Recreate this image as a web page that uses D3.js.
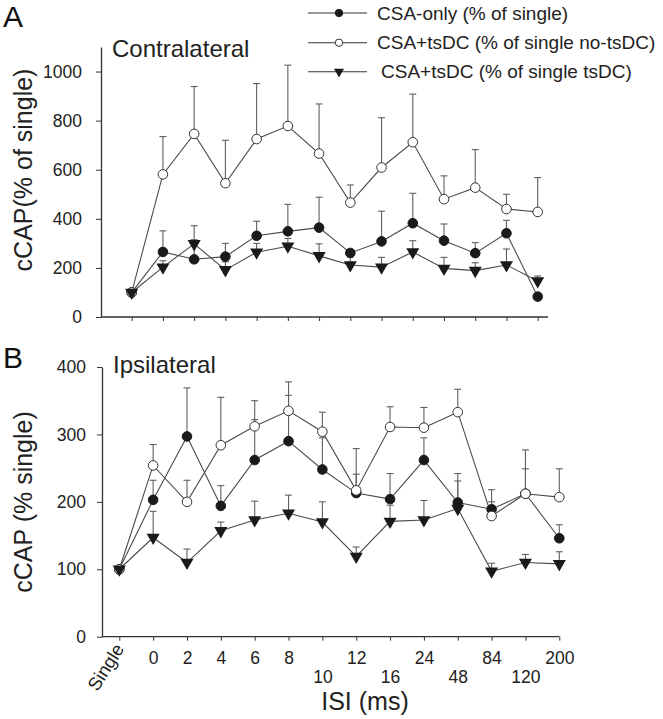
<!DOCTYPE html>
<html><head><meta charset="utf-8">
<script src="https://cdn.jsdelivr.net/npm/d3@7"></script>
<style>body{margin:0;background:#fff}svg{display:block;font-family:"Liberation Sans",Arial,sans-serif}</style>
</head><body>
<svg id="c" width="663" height="719"></svg>
<script>
const categories = ["Single","0","2","4","6","8","10","12","16","24","48","84","120","200"];
const lowerRow = ["10","16","48","120"];

// Panel A (Contralateral) means and upper error bar ends
const aCsaOnly     = [100,265,235,246,331,349,364,261,308,382,311,260,341,83];
const aCsaOnlyTop  = [null,351,372,300,390,459,488,275,431,504,379,303,394,null];
const aNoTsdc      = [100,581,746,545,725,778,666,466,609,712,480,527,440,428];
const aNoTsdcTop   = [null,735,939,720,951,1026,868,538,812,908,575,682,500,568];
const aTsdc        = [100,203,298,192,264,288,249,212,203,265,198,189,212,147];
const aTsdcTop     = [null,229,315,225,300,320,298,245,243,311,243,221,277,167];

// Panel B (Ipsilateral)
const bCsaOnly     = [100,203,297,194,262,290,248,213,204,262,199,189,212,146];
const bCsaOnlyTop  = [null,232,369,224,322,358,295,241,242,295,242,218,249,166];
const bNoTsdc      = [100,254,200,284,312,335,304,217,311,310,333,179,212,207];
const bNoTsdcTop   = [null,285,232,355,350,378,333,279,341,340,367,200,277,249];
const bTsdc        = [100,147,110,157,173,183,170,119,171,173,190,97,110,108];
const bTsdcTop     = [null,186,130,170,201,210,200,133,195,202,231,109,122,126];

const aTicks = [0,200,400,600,800,1000];
const bTicks = [0,100,200,300,400];

const legendLabels = ["CSA-only (% of single)","CSA+tsDC (% of single no-tsDC)","CSA+tsDC (% of single tsDC)"];

const svg = d3.select("#c");
const lineCol = "#4a4a4a", errCol = "#606060", mk = "#1a1a1a";
const tri = d3.symbol().type(d3.symbolTriangle);
const FONT = "Liberation Sans, Arial, sans-serif";

function marker(g, type, x, y, r) {
  if (type === "filled") g.append("circle").attr("cx",x).attr("cy",y).attr("r",r).attr("fill",mk).attr("stroke",mk).attr("stroke-width",1);
  else if (type === "open") g.append("circle").attr("cx",x).attr("cy",y).attr("r",r).attr("fill","#fff").attr("stroke","#333").attr("stroke-width",1);
  else g.append("path").attr("d", tri.size(r*r*3.2)()).attr("transform",`translate(${x},${y}) rotate(180)`).attr("fill",mk);
}

function panel(opt) {
  const g = svg.append("g");
  const x = d3.scalePoint().domain(categories).range([opt.x0, opt.x1]);
  const y = d3.scaleLinear().domain([0, opt.ymax]).range([opt.yb, opt.yt]);
  // y axis
  const ya = g.append("g").attr("transform",`translate(${opt.left},0)`)
    .call(d3.axisLeft(y).tickValues(opt.ticks).tickFormat(d3.format("d")).tickSize(5).tickSizeOuter(0).tickPadding(opt.pad));
  ya.select(".domain").attr("stroke","#333").attr("stroke-width",1.3);
  ya.selectAll(".tick line").attr("stroke","#333");
  ya.selectAll("text").attr("font-size",17.5).attr("fill","#222").attr("font-family",FONT);
  // x axis
  const xa = g.append("g").attr("transform",`translate(0,${opt.yb})`)
    .call(d3.axisBottom(x).tickSize(4).tickSizeOuter(0));
  xa.select(".domain").remove();
  g.append("line").attr("x1",opt.left).attr("x2",opt.xend).attr("y1",opt.yb).attr("y2",opt.yb).attr("stroke","#333").attr("stroke-width",1.3);
  xa.selectAll(".tick line").attr("stroke","#333");
  if (opt.labels) {
    xa.selectAll(".tick text").attr("font-size",17.5).attr("fill","#222").attr("font-family",FONT)
      .attr("y", d => lowerRow.includes(d) ? 34 : 15)
      .each(function(d){
        if (d === "Single") d3.select(this).attr("text-anchor","end").attr("dy",0).attr("y",0)
          .attr("font-size",18.5).attr("transform","translate(5,12) rotate(-58)");
      });
  } else xa.selectAll(".tick text").remove();
  // title
  g.append("text").attr("x",opt.left+11).attr("y",opt.titleY).attr("font-size",24).attr("fill","#222").text(opt.title);
  g.append("text").attr("x",3).attr("y",opt.letterY).attr("font-size",30).attr("fill","#111").text(opt.letter);
  g.append("text").attr("transform",`translate(32,${opt.ylabY}) rotate(-90)`).attr("text-anchor","middle")
    .attr("font-size",25).attr("fill","#222").text(opt.ylab);

  const series = [
    {v:opt.s1, t:opt.e1, type:"filled"},
    {v:opt.s2, t:opt.e2, type:"open"},
    {v:opt.s3, t:opt.e3, type:"tri"}
  ];
  const line = d3.line().x((d,i)=>x(categories[i])).y(d=>y(d));
  series.forEach(s => g.append("path").attr("d", line(s.v)).attr("fill","none").attr("stroke",lineCol).attr("stroke-width",1.1));
  series.forEach(s => s.t.forEach((t,i) => {
    if (t == null) return;
    const cx = x(categories[i]);
    g.append("line").attr("x1",cx).attr("x2",cx).attr("y1",y(s.v[i])).attr("y2",y(t)).attr("stroke",errCol).attr("stroke-width",1.1);
    g.append("line").attr("x1",cx-3.5).attr("x2",cx+3.5).attr("y1",y(t)).attr("y2",y(t)).attr("stroke",errCol).attr("stroke-width",1.1);
  }));
  series.forEach(s => s.v.forEach((v,i) => marker(g, s.type, x(categories[i]), y(v), 4.8)));
}

panel({left:101, x0:131.7, x1:537.7, xend:548, yb:317, yt:47, ymax:1100, ticks:aTicks, labels:false, pad:14,
  title:"Contralateral", titleY:57, letter:"A", letterY:27, ylab:"cCAP(% of single)", ylabY:170,
  s1:aCsaOnly, e1:aCsaOnlyTop, s2:aNoTsdc, e2:aNoTsdcTop, s3:aTsdc, e3:aTsdcTop});

panel({left:102, x0:119.3, x1:559.3, xend:559.3, yb:636.7, yt:367, ymax:400, ticks:bTicks, labels:true, pad:11,
  title:"Ipsilateral", titleY:373, letter:"B", letterY:368, ylab:"cCAP (% single)", ylabY:502,
  s1:bCsaOnly, e1:bCsaOnlyTop, s2:bNoTsdc, e2:bNoTsdcTop, s3:bTsdc, e3:bTsdcTop});

svg.append("text").attr("x",365).attr("y",710).attr("text-anchor","middle").attr("font-size",25).attr("fill","#222").text("ISI (ms)");

// legend
const types = ["filled","open","tri"];
const ly = [13, 42.7, 71.7];
const lg = svg.append("g");
legendLabels.forEach((lab,i) => {
  lg.append("line").attr("x1",308).attr("x2",367).attr("y1",ly[i]).attr("y2",ly[i]).attr("stroke","#333").attr("stroke-width",1.1);
  marker(lg, types[i], 339, ly[i], 3.7);
  lg.append("text").attr("x", i===2 ? 381 : 377).attr("y", ly[i]+6.5).attr("font-size",19).attr("fill","#222").text(lab);
});
</script>
</body></html>
